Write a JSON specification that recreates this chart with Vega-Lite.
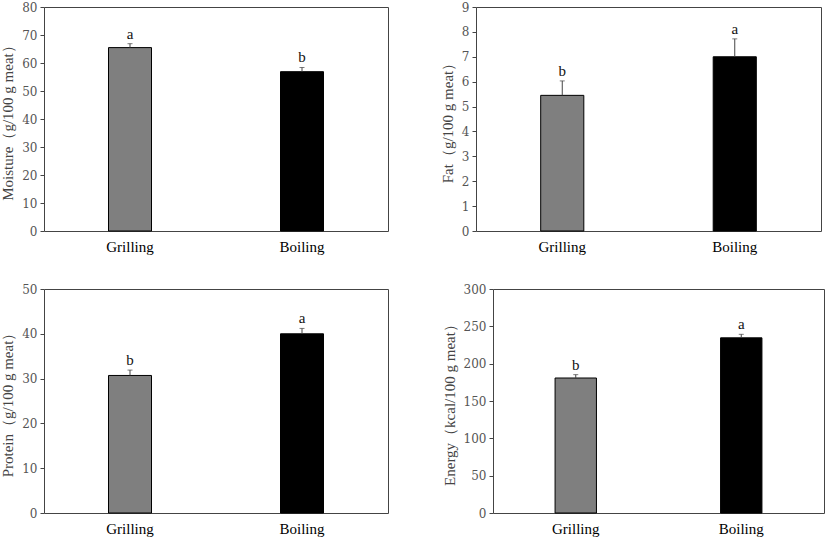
{
  "$schema": "https://vega.github.io/schema/vega-lite/v6.json",
  "padding": {"left": 0, "top": 0, "right": 4, "bottom": 0},
  "background": "white",
  "datasets": {
    "d": [
      {"nutrient": "Moisture", "method": "Grilling", "mean": 65.5, "hi": 66.9, "letter": "a"},
      {"nutrient": "Moisture", "method": "Boiling", "mean": 56.9, "hi": 58.4, "letter": "b"},
      {"nutrient": "Fat", "method": "Grilling", "mean": 5.45, "hi": 6.03, "letter": "b"},
      {"nutrient": "Fat", "method": "Boiling", "mean": 7.0, "hi": 7.72, "letter": "a"},
      {"nutrient": "Protein", "method": "Grilling", "mean": 30.7, "hi": 31.9, "letter": "b"},
      {"nutrient": "Protein", "method": "Boiling", "mean": 40.0, "hi": 41.2, "letter": "a"},
      {"nutrient": "Energy", "method": "Grilling", "mean": 180.8, "hi": 185.3, "letter": "b"},
      {"nutrient": "Energy", "method": "Boiling", "mean": 234.6, "hi": 239.3, "letter": "a"}
    ]
  },
  "data": {"name": "d"},
  "config": {
    "font": "Liberation Serif",
    "view": {"stroke": "#444", "strokeWidth": 1},
    "axis": {"grid": false, "domain": false},
    "axisX": {"ticks": false, "labelAngle": 0, "labelFontSize": 15, "labelColor": "#000", "labelPadding": 8, "title": null, "labelFont": "Liberation Serif"},
    "axisY": {"tickSize": 4, "tickColor": "#444", "labelFont": "DejaVu Serif", "labelFontSize": 12, "labelColor": "#555", "labelPadding": 3, "labelOverlap": false, "titleFont": "Liberation Serif", "titleFontSize": 15, "titleColor": "#444", "titleFontWeight": "normal", "titlePadding": 6},
    "scale": {"bandPaddingInner": 0.75, "bandPaddingOuter": 0.375}
  },
  "spacing": 27,
  "vconcat": [
    {
      "spacing": 50,
      "hconcat": [
        {
          "width": 344, "height": 224,
          "transform": [{"filter": "datum.nutrient === 'Moisture'"}],
          "encoding": {"x": {"field": "method", "type": "nominal", "sort": ["Grilling", "Boiling"]}},
          "layer": [
            {"mark": {"type": "bar", "stroke": "#000", "strokeWidth": 1},
             "encoding": {"y": {"field": "mean", "type": "quantitative", "scale": {"domain": [0, 80]}, "axis": {"title": "Moisture（g/100 g meat）", "values": [0,10,20,30,40,50,60,70,80]}},
                          "fill": {"field": "method", "type": "nominal", "scale": {"domain": ["Grilling", "Boiling"], "range": ["#7f7f7f", "#000000"]}, "legend": null}}},
            {"mark": {"type": "rule", "color": "#444"}, "encoding": {"y": {"field": "mean", "type": "quantitative", "scale": {"domain": [0, 80]}, "axis": {"title": "Moisture（g/100 g meat）", "values": [0,10,20,30,40,50,60,70,80]}}, "y2": {"field": "hi"}}},
            {"mark": {"type": "tick", "orient": "horizontal", "size": 5, "thickness": 1, "color": "#444"}, "encoding": {"y": {"field": "hi", "type": "quantitative", "scale": {"domain": [0, 80]}, "axis": {"title": "Moisture（g/100 g meat）", "values": [0,10,20,30,40,50,60,70,80]}}}},
            {"mark": {"type": "text", "baseline": "alphabetic", "dy": -5, "color": "#111", "fontSize": 15}, "encoding": {"y": {"field": "hi", "type": "quantitative", "scale": {"domain": [0, 80]}, "axis": {"title": "Moisture（g/100 g meat）", "values": [0,10,20,30,40,50,60,70,80]}}, "text": {"field": "letter"}}}
          ]
        },
        {
          "width": 345, "height": 224,
          "transform": [{"filter": "datum.nutrient === 'Fat'"}],
          "encoding": {"x": {"field": "method", "type": "nominal", "sort": ["Grilling", "Boiling"]}},
          "layer": [
            {"mark": {"type": "bar", "stroke": "#000", "strokeWidth": 1},
             "encoding": {"y": {"field": "mean", "type": "quantitative", "scale": {"domain": [0, 9]}, "axis": {"title": "Fat（g/100 g meat）", "values": [0,1,2,3,4,5,6,7,8,9]}},
                          "fill": {"field": "method", "type": "nominal", "scale": {"domain": ["Grilling", "Boiling"], "range": ["#7f7f7f", "#000000"]}, "legend": null}}},
            {"mark": {"type": "rule", "color": "#444"}, "encoding": {"y": {"field": "mean", "type": "quantitative", "scale": {"domain": [0, 9]}, "axis": {"title": "Fat（g/100 g meat）", "values": [0,1,2,3,4,5,6,7,8,9]}}, "y2": {"field": "hi"}}},
            {"mark": {"type": "tick", "orient": "horizontal", "size": 5, "thickness": 1, "color": "#444"}, "encoding": {"y": {"field": "hi", "type": "quantitative", "scale": {"domain": [0, 9]}, "axis": {"title": "Fat（g/100 g meat）", "values": [0,1,2,3,4,5,6,7,8,9]}}}},
            {"mark": {"type": "text", "baseline": "alphabetic", "dy": -5, "color": "#111", "fontSize": 15}, "encoding": {"y": {"field": "hi", "type": "quantitative", "scale": {"domain": [0, 9]}, "axis": {"title": "Fat（g/100 g meat）", "values": [0,1,2,3,4,5,6,7,8,9]}}, "text": {"field": "letter"}}}
          ]
        }
      ]
    },
    {
      "spacing": 52,
      "hconcat": [
        {
          "width": 344, "height": 224,
          "transform": [{"filter": "datum.nutrient === 'Protein'"}],
          "encoding": {"x": {"field": "method", "type": "nominal", "sort": ["Grilling", "Boiling"]}},
          "layer": [
            {"mark": {"type": "bar", "stroke": "#000", "strokeWidth": 1},
             "encoding": {"y": {"field": "mean", "type": "quantitative", "scale": {"domain": [0, 50]}, "axis": {"title": "Protein（g/100 g meat）", "values": [0,10,20,30,40,50]}},
                          "fill": {"field": "method", "type": "nominal", "scale": {"domain": ["Grilling", "Boiling"], "range": ["#7f7f7f", "#000000"]}, "legend": null}}},
            {"mark": {"type": "rule", "color": "#444"}, "encoding": {"y": {"field": "mean", "type": "quantitative", "scale": {"domain": [0, 50]}, "axis": {"title": "Protein（g/100 g meat）", "values": [0,10,20,30,40,50]}}, "y2": {"field": "hi"}}},
            {"mark": {"type": "tick", "orient": "horizontal", "size": 5, "thickness": 1, "color": "#444"}, "encoding": {"y": {"field": "hi", "type": "quantitative", "scale": {"domain": [0, 50]}, "axis": {"title": "Protein（g/100 g meat）", "values": [0,10,20,30,40,50]}}}},
            {"mark": {"type": "text", "baseline": "alphabetic", "dy": -5, "color": "#111", "fontSize": 15}, "encoding": {"y": {"field": "hi", "type": "quantitative", "scale": {"domain": [0, 50]}, "axis": {"title": "Protein（g/100 g meat）", "values": [0,10,20,30,40,50]}}, "text": {"field": "letter"}}}
          ]
        },
        {
          "width": 331, "height": 224,
          "transform": [{"filter": "datum.nutrient === 'Energy'"}],
          "encoding": {"x": {"field": "method", "type": "nominal", "sort": ["Grilling", "Boiling"]}},
          "layer": [
            {"mark": {"type": "bar", "stroke": "#000", "strokeWidth": 1},
             "encoding": {"y": {"field": "mean", "type": "quantitative", "scale": {"domain": [0, 300]}, "axis": {"title": "Energy（kcal/100 g meat）", "values": [0,50,100,150,200,250,300]}},
                          "fill": {"field": "method", "type": "nominal", "scale": {"domain": ["Grilling", "Boiling"], "range": ["#7f7f7f", "#000000"]}, "legend": null}}},
            {"mark": {"type": "rule", "color": "#444"}, "encoding": {"y": {"field": "mean", "type": "quantitative", "scale": {"domain": [0, 300]}, "axis": {"title": "Energy（kcal/100 g meat）", "values": [0,50,100,150,200,250,300]}}, "y2": {"field": "hi"}}},
            {"mark": {"type": "tick", "orient": "horizontal", "size": 5, "thickness": 1, "color": "#444"}, "encoding": {"y": {"field": "hi", "type": "quantitative", "scale": {"domain": [0, 300]}, "axis": {"title": "Energy（kcal/100 g meat）", "values": [0,50,100,150,200,250,300]}}}},
            {"mark": {"type": "text", "baseline": "alphabetic", "dy": -5, "color": "#111", "fontSize": 15}, "encoding": {"y": {"field": "hi", "type": "quantitative", "scale": {"domain": [0, 300]}, "axis": {"title": "Energy（kcal/100 g meat）", "values": [0,50,100,150,200,250,300]}}, "text": {"field": "letter"}}}
          ]
        }
      ]
    }
  ]
}
